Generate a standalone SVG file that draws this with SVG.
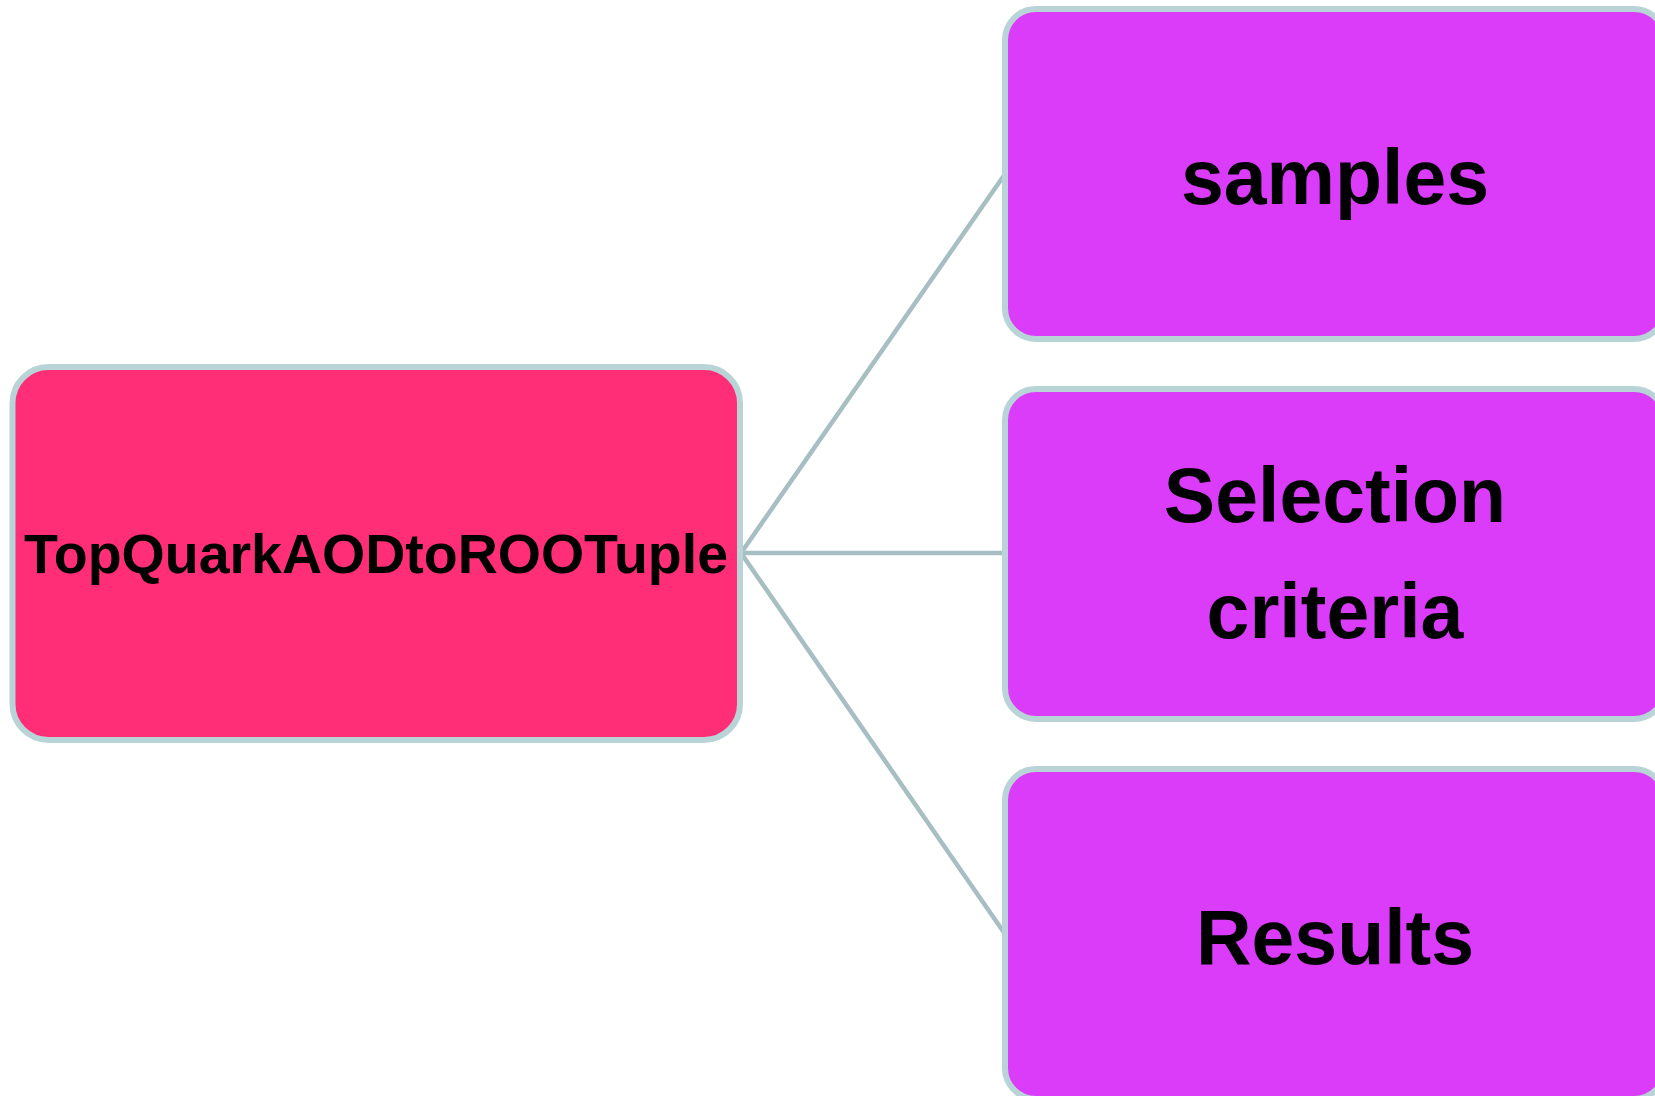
<svg xmlns="http://www.w3.org/2000/svg" width="1655" height="1096" viewBox="0 0 1655 1096">
  <style>
    .root { fill: #ff2e76; stroke: #b9d4d7; stroke-width: 6; }
    .child { fill: #da3cfa; stroke: #b9d4d7; stroke-width: 6; }
    .link { stroke: #a7bfc2; stroke-width: 4.5; fill: none; stroke-linecap: round; }
    .label { font-family: "Liberation Sans", Arial, sans-serif; font-weight: bold; fill: #000000; text-anchor: middle; }
  </style>
  <rect x="0" y="0" width="1655" height="1096" fill="#ffffff"/>

  <!-- connectors from the root node to each child -->
  <g id="connectors">
    <line class="link" x1="741" y1="553" x2="1005" y2="174"/>
    <line class="link" x1="741" y1="553" x2="1005" y2="553"/>
    <line class="link" x1="741" y1="553" x2="1005" y2="934"/>
  </g>

  <g id="node-root">
    <rect class="root" x="12.5" y="367" width="727.5" height="373" rx="36" ry="36"/>
    <text class="label" x="376" y="573" font-size="55.5">TopQuarkAODtoROOTuple</text>
  </g>

  <g id="node-samples">
    <rect class="child" x="1005" y="9" width="660" height="330" rx="31" ry="31"/>
    <text class="label" x="1335" y="204" font-size="77">samples</text>
  </g>

  <g id="node-selection">
    <rect class="child" x="1005" y="389" width="660" height="330" rx="31" ry="31"/>
    <text class="label" x="1335" y="522" font-size="77">Selection</text>
    <text class="label" x="1335" y="638" font-size="77">criteria</text>
  </g>

  <g id="node-results">
    <rect class="child" x="1005" y="769" width="660" height="330" rx="31" ry="31"/>
    <text class="label" x="1335" y="964" font-size="77">Results</text>
  </g>
</svg>
